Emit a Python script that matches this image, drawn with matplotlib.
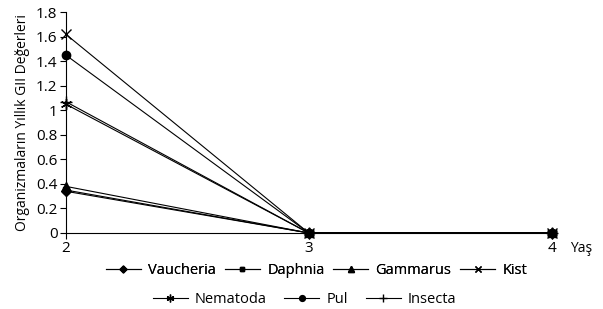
import matplotlib
matplotlib.use("Agg")
import matplotlib.pyplot as plt

plt.rcParams['font.family'] = ['Open Sans', 'DejaVu Sans']

years = [2, 3, 4]
names = ['Vaucheria', 'Daphnia', 'Gammarus', 'Kist', 'Nematoda', 'Pul', 'Insecta']
vaucheria = [0.34, 0, 0]
daphnia = [0.35, 0, 0]
gammarus = [0.38, 0, 0]
kist = [1.62, 0, 0]
nematoda = [1.05, 0, 0]
pul = [1.45, 0, 0]
insecta = [1.07, 0, 0]
series = [vaucheria, daphnia, gammarus, kist, nematoda, pul, insecta]
markers = ['D', 's', '^', 'x', (6, 2, 0), 'o', '+']
msizes = [5, 5, 6, 7, 8, 6, 8]

fig = plt.figure(figsize=(6.03, 3.09), dpi=100)
ax = fig.add_axes([0.109, 0.246, 0.806, 0.715])

handles = []
for vals, m, ms, n in zip(series, markers, msizes, names):
    h, = ax.plot(years, vals, color='black', lw=0.8, marker=m, ms=ms,
                 mec='black', mfc='black', mew=1.0, label=n, clip_on=False)
    handles.append(h)

ax.set_xlim(2, 4)
ax.set_ylim(0, 1.8)
ax.set_xticks(years)
ax.set_yticks([0, 0.2, 0.4, 0.6, 0.8, 1, 1.2, 1.4, 1.6, 1.8])
ax.set_yticklabels(['0', '0.2', '0.4', '0.6', '0.8', '1', '1.2', '1.4', '1.6', '1.8'])
ax.tick_params(labelsize=11, length=4, width=0.8, pad=2)
for s in ['top', 'right']:
    ax.spines[s].set_visible(False)
ax.spines['left'].set_linewidth(0.8)
ax.spines['bottom'].set_linewidth(0.8)
ax.set_ylabel('Organizmaların Yıllık GII Değerleri', fontsize=10, labelpad=4)
fig.text(0.945, 0.195, 'Yaş', fontsize=10, ha='left', va='center')

leg1 = fig.legend(handles=handles[:4], loc='center', bbox_to_anchor=(0.525, 0.125),
                  ncol=4, frameon=False, fontsize=10.5, handlelength=2.4,
                  columnspacing=0.6, handletextpad=0.5, borderpad=0, markerscale=0.7)
leg2 = fig.legend(handles=handles[4:], loc='center', bbox_to_anchor=(0.505, 0.03),
                  ncol=3, frameon=False, fontsize=10.5, handlelength=2.4,
                  columnspacing=1.2, handletextpad=0.5, borderpad=0, markerscale=0.7)
fig.add_artist(leg1)

fig.savefig('out.png', dpi=100)
